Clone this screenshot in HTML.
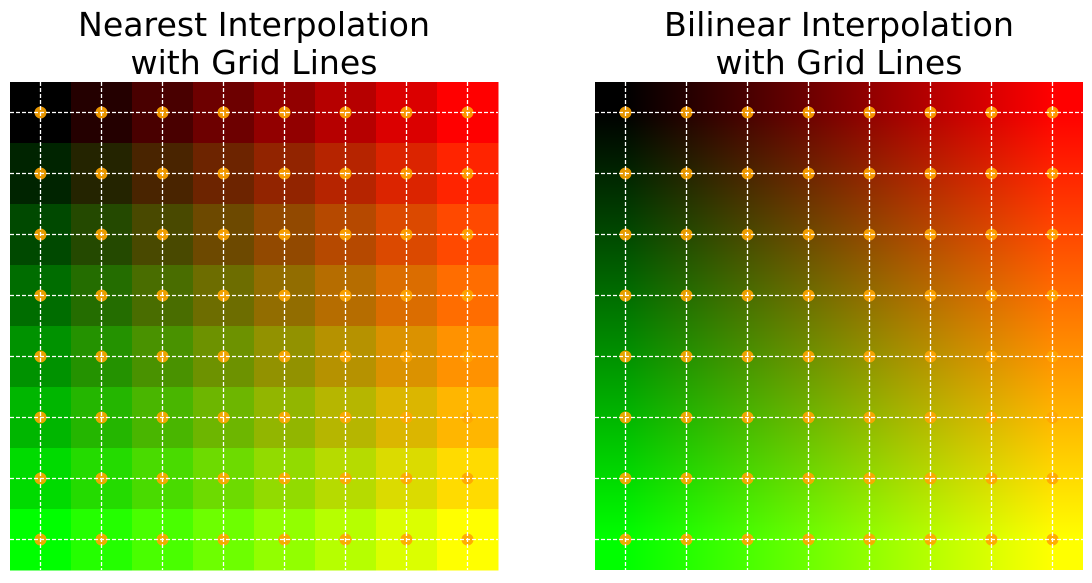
<!DOCTYPE html>
<html><head><meta charset="utf-8"><style>
body{margin:0;background:#fff;width:1092px;height:579px;overflow:hidden;font-family:"DejaVu Sans","Liberation Sans",sans-serif}
</style></head><body>
<svg id="chart" width="1092" height="579">
<defs>
<linearGradient id="gr" x1="0" x2="1" y1="0" y2="0"><stop offset="0.0625" stop-color="#000"/><stop offset="0.9375" stop-color="#f00"/></linearGradient>
<linearGradient id="gg" x1="0" x2="0" y1="0" y2="1"><stop offset="0.0625" stop-color="#000"/><stop offset="0.9375" stop-color="#0f0"/></linearGradient>
</defs>
<text font-size="33" text-anchor="middle" fill="#000"><tspan x="254" y="36" textLength="352" lengthAdjust="spacingAndGlyphs">Nearest Interpolation</tspan><tspan x="254" y="74" textLength="247" lengthAdjust="spacingAndGlyphs">with Grid Lines</tspan></text>
<text font-size="33" text-anchor="middle" fill="#000"><tspan x="839" y="36" textLength="350" lengthAdjust="spacingAndGlyphs">Bilinear Interpolation</tspan><tspan x="839" y="74" textLength="247" lengthAdjust="spacingAndGlyphs">with Grid Lines</tspan></text>
<g id="left"></g>
<g id="right"></g>
</svg>
<script>
const rows=[0,1,2,3,4,5,6,7];
const cols=[0,1,2,3,4,5,6,7];
const redVals=[0,36,73,109,146,182,219,255];
const greenVals=[0,36,73,109,146,182,219,255];
const NS='http://www.w3.org/2000/svg';
const top0=82, cell=61;
function mk(t,a,p){const e=document.createElementNS(NS,t);for(const k in a)e.setAttribute(k,a[k]);p.appendChild(e);return e;}
function sx(x0,c){return x0+c*cell;}
function sy(r){return top0+r*cell;}
function panel(g,x0,nearest){
  if(nearest){
    rows.forEach(r=>cols.forEach(c=>{
      const e=mk('rect',{x:sx(x0,c),y:sy(r),width:cell+0.5,height:cell+0.5,fill:`rgb(${redVals[c]},${greenVals[r]},0)`},g);
      
      
    }));
  } else {
    const a=mk('rect',{x:x0,y:top0,width:cell*8,height:cell*8,fill:'url(#gr)'},g);
    
    
    const b=mk('rect',{x:x0,y:top0,width:cell*8,height:cell*8,fill:'url(#gg)',style:'mix-blend-mode:screen'},g);
    
    
  }
  rows.forEach(r=>cols.forEach(c=>{
    const d=mk('circle',{cx:sx(x0,c)+cell/2,cy:sy(r)+cell/2,r:6,fill:'#ffa500','fill-opacity':0.9},g);
    
    
  }));
  cols.forEach(c=>{
    const x=sx(x0,c)+cell/2;
    const l=mk('line',{x1:x,x2:x,y1:top0,y2:top0+cell*8,stroke:'#fff','stroke-width':1.3,'stroke-dasharray':'4,2'},g);
    
    
  });
  rows.forEach(r=>{
    const y=sy(r)+cell/2;
    const l=mk('line',{x1:x0,x2:x0+cell*8,y1:y,y2:y,stroke:'#fff','stroke-width':1.3,'stroke-dasharray':'4,2'},g);
    
    
  });
}
panel(document.getElementById('left'),10,true);
panel(document.getElementById('right'),595,false);
</script>
</body></html>
